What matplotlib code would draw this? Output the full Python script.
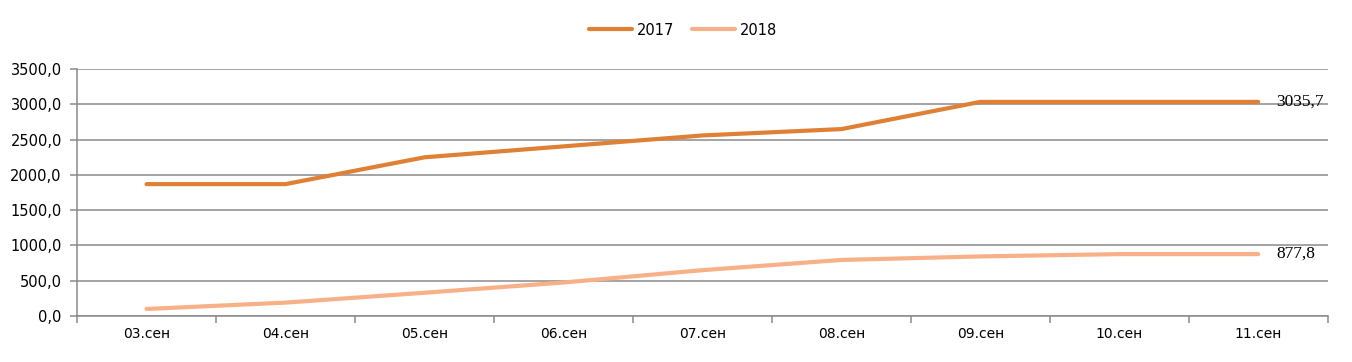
import matplotlib.pyplot as plt
import numpy as np
from matplotlib.ticker import FuncFormatter, FixedLocator

days = ['03.сен', '04.сен', '05.сен', '06.сен', '07.сен', '08.сен', '09.сен', '10.сен', '11.сен']
y2017 = [1870, 1870, 2250, 2405, 2560, 2650, 3035.7, 3035.7, 3035.7]
y2018 = [100, 190, 330, 475, 650, 795, 845, 877.8, 877.8]
labels = ['2017', '2018']
colors = ['#DF8035', '#F8B088']

fig = plt.figure(figsize=(13.52, 3.62), dpi=100)
ax = fig.add_axes([0.057, 0.127, 0.925, 0.682])

x = np.arange(len(days))
ax.plot(x, y2017, color=colors[0], lw=3.0, label=labels[0], solid_capstyle='round')
ax.plot(x, y2018, color=colors[1], lw=3.0, label=labels[1], solid_capstyle='round')

# end labels
ax.text(x[-1] + 0.13, y2017[-1], '3035,7', family='Liberation Serif', fontsize=12.5,
        va='center', ha='left')
ax.text(x[-1] + 0.13, y2018[-1], '877,8', family='Liberation Serif', fontsize=12.5,
        va='center', ha='left')

ax.set_xlim(-0.5, len(days) - 0.5)
ax.set_ylim(0, 3500)
ax.set_yticks(np.arange(0, 3501, 500))
ax.yaxis.set_major_formatter(FuncFormatter(lambda v, p: f'{v:.1f}'.replace('.', ',')))
ax.grid(axis='y', color='#8a8a8a', lw=1.1)
ax.set_axisbelow(True)

ax.set_xticks(x)
ax.set_xticklabels(days)
ax.xaxis.set_minor_locator(FixedLocator(np.arange(-0.5, len(days), 1.0)))
ax.tick_params(axis='x', which='major', length=0, labelsize=10, pad=8)
ax.tick_params(axis='x', which='minor', length=5, color='#8a8a8a', width=1.1)
ax.tick_params(axis='y', length=5, color='#8a8a8a', width=1.1, labelsize=10.5, pad=6)

for s in ['top', 'right']:
    ax.spines[s].set_visible(False)
for s in ['left', 'bottom']:
    ax.spines[s].set_color('#8a8a8a')
    ax.spines[s].set_linewidth(1.1)

fig.legend(loc='center', bbox_to_anchor=(0.505, 0.917), ncol=2, frameon=False,
           fontsize=10.5, handlelength=3.0, columnspacing=1.2, handletextpad=0.3)

fig.savefig('out.png', dpi=100)
